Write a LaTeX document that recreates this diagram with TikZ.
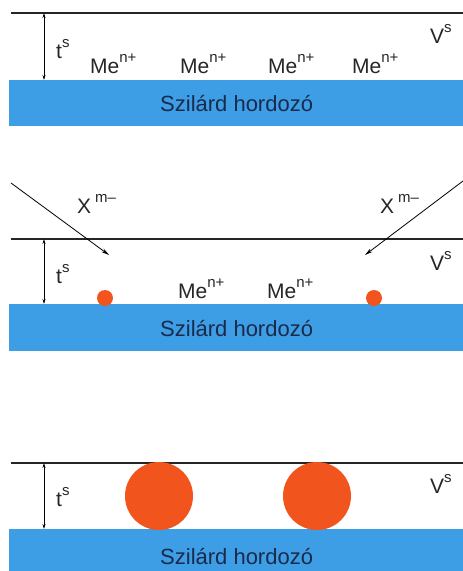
\documentclass[tikz,border=0pt]{standalone}
\usepackage{fontspec}
\setmainfont{Liberation Sans}
\usetikzlibrary{arrows.meta}
\definecolor{subblue}{HTML}{3D9EE6}
\definecolor{dotred}{HTML}{F2541E}
\definecolor{navy}{HTML}{1A2A4A}
\newcommand{\supx}[1]{\raisebox{0.5em}{\fontsize{15}{15}\selectfont #1}}
\begin{document}
\begin{tikzpicture}[x=1pt,y=-1pt,
  surf/.style={line width=1.3pt,draw=black!85},
  subst/.style={fill=subblue,draw=none},
  lbl/.style={inner sep=0pt,anchor=base west,font=\fontsize{21}{21}\selectfont,text=black!85},
  sub/.style={inner sep=0pt,anchor=base west,font=\fontsize{22}{22}\selectfont,text=navy},
  dimarrow/.style={line width=0.8pt,{Stealth[length=5pt,width=3pt]}-{Stealth[length=5pt,width=3pt]}},
  ion/.style={line width=0.8pt,-{Stealth[length=8pt,width=4pt]}},
  dot/.style={circle,fill=dotred,draw=none,inner sep=0pt}
]
\useasboundingbox (0,0) rectangle (463,571);
% ---------- panel 1 ----------
\fill[subst] (9,80) rectangle (463,126);
\draw[surf] (11,13) coordinate (a1) -- (463,13) coordinate (b1);
\coordinate (d1t) at (44,13); \coordinate (d1b) at (44,80);
\draw[dimarrow] (d1t) -- (d1b);
\node[lbl] (t1) at (56,58) {t\supx{s}};
\node[lbl] (v1) at (430,43) {V\supx{s}};
\node[lbl] (m11) at (90,73) {Me\supx{n+}};
\node[lbl] (m12) at (180,73) {Me\supx{n+}};
\node[lbl] (m13) at (268,73) {Me\supx{n+}};
\node[lbl] (m14) at (352,73) {Me\supx{n+}};
\node[sub] (s1) at (160,111) {Szilárd hordozó};
% ---------- panel 2 ----------
\fill[subst] (9,304) rectangle (463,351);
\draw[surf] (11,239) coordinate (a2) -- (463,239) coordinate (b2);
\coordinate (d2t) at (44,239); \coordinate (d2b) at (44,304);
\draw[dimarrow] (d2t) -- (d2b);
\node[lbl] (t2) at (56,283) {t\supx{s}};
\node[lbl] (v2) at (430,270) {V\supx{s}};
\coordinate (xl0) at (11,183); \coordinate (xl1) at (109,255);
\coordinate (xr0) at (463,181); \coordinate (xr1) at (365,255);
\draw[ion] (xl0) -- (xl1);
\draw[ion] (xr0) -- (xr1);
\node[lbl] (x1) at (77,213) {X\hspace{4pt}\supx{m–}};
\node[lbl] (x2) at (380,213) {X\hspace{4pt}\supx{m–}};
\node[dot,minimum size=16pt] (p1) at (105,298) {};
\node[dot,minimum size=16pt] (p2) at (374,298) {};
\node[lbl] (m21) at (178,298) {Me\supx{n+}};
\node[lbl] (m22) at (267,298) {Me\supx{n+}};
\node[sub] (s2) at (160,336) {Szilárd hordozó};
% ---------- panel 3 ----------
\fill[subst] (9,529) rectangle (463,571);
\draw[surf] (11,463) coordinate (a3) -- (463,463) coordinate (b3);
\coordinate (d3t) at (44,463); \coordinate (d3b) at (44,529);
\draw[dimarrow] (d3t) -- (d3b);
\node[lbl] (t3) at (56,506) {t\supx{s}};
\node[lbl] (v3) at (430,493) {V\supx{s}};
\node[dot,minimum size=68pt] (c1) at (159,496) {};
\node[dot,minimum size=68pt] (c2) at (317,496) {};
\node[sub] (s3) at (160,564) {Szilárd hordozó};
\end{tikzpicture}
\end{document}
